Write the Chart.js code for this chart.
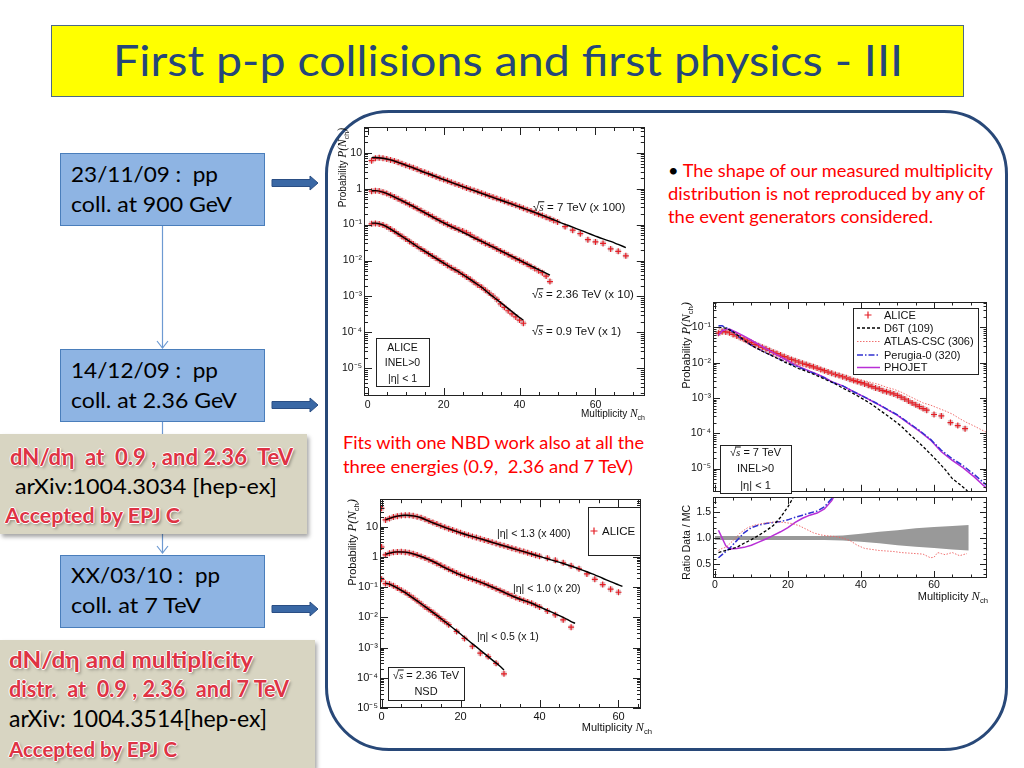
<!DOCTYPE html>
<html lang="en">
<head>
<meta charset="utf-8">
<title>First p-p collisions and first physics - III</title>
<script src="https://cdn.jsdelivr.net/npm/chart.js@4.4.1/dist/chart.umd.min.js"></script>
<style>
  html, body { margin: 0; padding: 0; background: #fff; }
  body { position: relative; width: 1024px; height: 768px; overflow: hidden; }
  .abs { position: absolute; }
  .t { position: absolute; white-space: pre; line-height: 1.2; transform-origin: 0 50%;
       font-family: Lato, "Open Sans", sans-serif; color: #000; }
  .wa { font-weight: 700; color: #de3344;
        text-shadow: -1px 0 #fff, 1px 0 #fff, 0 -1px #fff, 0 1px #fff, 2px 2px 3px rgba(0,0,0,0.35); }
  .red { color: #ff0000; }
  .blue-box { position: absolute; left: 60px; width: 205px; height: 73px; box-sizing: border-box;
              background: #8eb4e3; border: 1px solid #4a7ebb; }
  .grey-box { position: absolute; left: 0; background: #d8d5c2; box-shadow: 2px 3px 4px rgba(0,0,0,0.35); }
  canvas { position: absolute; }
</style>
</head>
<body>
<svg class="abs" style="left:0;top:0" width="1024" height="768">
  <g stroke="#6d9ad2" stroke-width="1.2" fill="none">
    <line x1="162.5" y1="226" x2="162.5" y2="348"/>
    <polyline points="157,341 162.5,348 168,341"/>
    <line x1="162.5" y1="422" x2="162.5" y2="553"/>
    <polyline points="157,546 162.5,553 168,546"/>
  </g>
  <g fill="#3a68a5" stroke="#2a4e84" stroke-width="1">
    <polygon points="272,179.5 310,179.5 310,176 318,183 310,190 310,186.5 272,186.5"/>
    <polygon points="272,401.5 310,401.5 310,398 318,405 310,412 310,408.5 272,408.5"/>
    <polygon points="272,605.5 310,605.5 310,602 318,609 310,616 310,612.5 272,612.5"/>
  </g>
</svg>
<div class="abs" style="left:325px;top:110px;width:683px;height:641px;box-sizing:border-box;border:3px solid #284878;border-radius:64px"></div>
<div class="abs" style="left:51px;top:25px;width:913px;height:72px;box-sizing:border-box;background:#ffff00;border:1px solid #4d6a86"></div>
<div class="blue-box" style="top:153px"></div>
<div class="blue-box" style="top:349px"></div>
<div class="blue-box" style="top:555px"></div>
<div class="grey-box" style="top:434px;width:307px;height:100px"></div>
<div class="grey-box" style="top:640px;width:315px;height:128px"></div>

<canvas id="c-energies" width="317" height="300" style="left:333px;top:120px"></canvas>
<canvas id="c-models" width="317" height="201" style="left:678px;top:296px"></canvas>
<canvas id="c-ratio" width="317" height="108" style="left:678px;top:497px"></canvas>
<canvas id="c-eta" width="317" height="250" style="left:338px;top:494px"></canvas>

<div class="t" data-cy="62" data-w="790" style="left:113px;font-size:42px;color:#25467a">First p-p collisions and first physics - III</div>

<div class="t" data-cy="175" data-w="147" style="left:71px;font-size:22px">23/11/09 :  pp</div>
<div class="t" data-cy="205" data-w="161" style="left:71px;font-size:22px">coll. at 900 GeV</div>
<div class="t" data-cy="371" data-w="147" style="left:71px;font-size:22px">14/12/09 :  pp</div>
<div class="t" data-cy="401" data-w="166" style="left:71px;font-size:22px">coll. at 2.36 GeV</div>
<div class="t" data-cy="576" data-w="149" style="left:71px;font-size:22px">XX/03/10 :  pp</div>
<div class="t" data-cy="606" data-w="130" style="left:71px;font-size:22px">coll. at 7 TeV</div>

<div class="t wa" data-cy="458" data-w="283" style="left:10px;font-size:22px">dN/dη  at  0.9 , and 2.36  TeV</div>
<div class="t" data-cy="487" data-w="262" style="left:15px;font-size:22px">arXiv:1004.3034 [hep-ex]</div>
<div class="t wa" data-cy="515" data-w="175" style="left:5px;font-size:21px">Accepted by EPJ C</div>

<div class="t wa" data-cy="661" data-w="244" style="left:9px;font-size:23px">dN/dη and multiplicity</div>
<div class="t wa" data-cy="690" data-w="280" style="left:9px;font-size:23px">distr.  at  0.9 , 2.36  and 7 TeV</div>
<div class="t" data-cy="720" data-w="258" style="left:9px;font-size:23px">arXiv: 1004.3514[hep-ex]</div>
<div class="t wa" data-cy="749" data-w="168" style="left:9px;font-size:21px">Accepted by EPJ C</div>

<div class="t red" data-cy="172" data-w="325" style="left:668px;font-size:18px"><span style="color:#000">•</span> The shape of our measured multiplicity</div>
<div class="t red" data-cy="195" data-w="317" style="left:668px;font-size:18px">distribution is not reproduced by any of</div>
<div class="t red" data-cy="218" data-w="265" style="left:668px;font-size:18px">the event generators considered.</div>

<div class="t red" data-cy="444" data-w="301" style="left:343px;font-size:18px">Fits with one NBD work also at all the</div>
<div class="t red" data-cy="468" data-w="290" style="left:343px;font-size:18px">three energies (0.9,  2.36 and 7 TeV)</div>

<script>
// ---- top-left plot: INEL>0, |eta|<1, three energies (scaled) ----
const tlN7 = [1, 2, 3, 4, 5, 6, 7, 8, 9, 10, 11, 12, 13, 14, 15, 16, 17, 18, 19, 20, 21, 22, 23, 24, 25, 26, 27, 28, 29, 30,
  31, 32, 33, 34, 35, 36, 37, 38, 39, 40, 41, 42, 43, 44, 45, 46, 47, 48, 49, 50, 52, 54, 56, 58, 60, 62, 64, 66, 68];
const tlP7 = [6.0, 7.0, 7.2, 7.0, 6.7, 6.3, 5.9, 5.4, 4.95, 4.5, 4.15, 3.8, 3.45, 3.1, 2.85, 2.6, 2.35, 2.15, 1.95, 1.8,
  1.65, 1.5, 1.37, 1.26, 1.15, 1.05, 0.96, 0.89, 0.82, 0.75, 0.69, 0.63, 0.58, 0.53, 0.49, 0.45, 0.41, 0.375, 0.345, 0.315,
  0.285, 0.26, 0.24, 0.215, 0.195, 0.178, 0.16, 0.145, 0.13, 0.118, 0.088, 0.07, 0.056, 0.038, 0.033, 0.03, 0.021, 0.018, 0.0135];
const tlFitN7 = [1, 2, 4, 6, 8, 10, 12, 14, 16, 18, 20, 22, 24, 26, 28, 30, 32, 34, 36, 38, 40, 42, 44, 46, 48, 50,
  52, 54, 56, 58, 60, 62, 64, 66, 68];
const tlFit7 = [7.3, 7.4, 7.0, 6.3, 5.4, 4.5, 3.8, 3.1, 2.6, 2.15, 1.8, 1.5, 1.25, 1.05, 0.88, 0.74, 0.62, 0.52, 0.44, 0.37,
  0.31, 0.26, 0.22, 0.18, 0.15, 0.123, 0.102, 0.085, 0.07, 0.058, 0.048, 0.04, 0.034, 0.028, 0.023];

const tlN236 = [1, 2, 3, 4, 5, 6, 7, 8, 9, 10, 11, 12, 13, 14, 15, 16, 17, 18, 19, 20, 21, 22, 23, 24, 25, 26, 27, 28, 29, 30,
  31, 32, 33, 34, 35, 36, 37, 38, 39, 40, 41, 42, 43, 44, 45, 46, 47, 48];
const tlP236 = [0.85, 0.88, 0.86, 0.8, 0.73, 0.66, 0.59, 0.52, 0.46, 0.41, 0.36, 0.32, 0.28, 0.245, 0.215, 0.19, 0.167, 0.146,
  0.128, 0.113, 0.1, 0.089, 0.08, 0.072, 0.066, 0.059, 0.052, 0.044, 0.039, 0.034, 0.03, 0.027, 0.024, 0.021, 0.0185, 0.0165,
  0.0145, 0.0128, 0.0113, 0.0101, 0.0089, 0.0079, 0.0068, 0.006, 0.0052, 0.0046, 0.0037, 0.0026];
const tlFitN236 = [1, 2, 4, 6, 8, 10, 12, 14, 16, 18, 20, 22, 24, 26, 28, 30, 32, 34, 36, 38, 40, 42, 44, 46, 48];
const tlFit236 = [0.87, 0.88, 0.8, 0.66, 0.52, 0.41, 0.32, 0.245, 0.19, 0.145, 0.112, 0.088, 0.07, 0.055, 0.043, 0.034,
  0.027, 0.021, 0.0165, 0.013, 0.0102, 0.008, 0.0063, 0.005, 0.0039];

const tlN09 = [1, 2, 3, 4, 5, 6, 7, 8, 9, 10, 11, 12, 13, 14, 15, 16, 17, 18, 19, 20, 21, 22, 23, 24, 25, 26, 27, 28, 29, 30,
  31, 32, 33, 34, 35, 36, 37, 38, 39, 40, 41];
const tlP09 = [0.105, 0.108, 0.104, 0.097, 0.087, 0.075, 0.065, 0.055, 0.047, 0.04, 0.034, 0.029, 0.025, 0.021, 0.018, 0.0155,
  0.0133, 0.0115, 0.0099, 0.0085, 0.0073, 0.0063, 0.0055, 0.0048, 0.0041, 0.0035, 0.003, 0.0025, 0.0021, 0.0018, 0.0015,
  0.00125, 0.00103, 0.00083, 0.00062, 0.0005, 0.0004, 0.00033, 0.00027, 0.00022, 0.00018];
const tlFitN09 = [1, 2, 4, 6, 8, 10, 12, 14, 16, 18, 20, 22, 24, 26, 28, 30, 32, 34, 36, 38, 40, 41];
const tlFit09 = [0.11, 0.11, 0.098, 0.075, 0.055, 0.04, 0.029, 0.021, 0.0155, 0.0115, 0.0085, 0.0063, 0.0048, 0.0035, 0.0025,
  0.0018, 0.0012, 0.00082, 0.00056, 0.00038, 0.00026, 0.00022];

// ---- right plot: 7 TeV data vs event generators ----
const rN = [1, 2, 3, 4, 5, 6, 7, 8, 9, 10, 11, 12, 13, 14, 15, 16, 17, 18, 19, 20, 21, 22, 23, 24, 25, 26, 27, 28, 29, 30,
  31, 32, 33, 34, 35, 36, 37, 38, 39, 40, 41, 42, 43, 44, 45, 46, 47, 48, 49, 50, 51, 52, 53, 54, 55, 56, 57, 58,
  60, 62, 64.5, 66.5, 68.5];
const rAlice = [0.068, 0.075, 0.074, 0.07, 0.063, 0.057, 0.051, 0.046, 0.041, 0.037, 0.033, 0.03, 0.027, 0.0245, 0.022,
  0.0198, 0.018, 0.0163, 0.0148, 0.0135, 0.0123, 0.0113, 0.0104, 0.0096, 0.0089, 0.0082, 0.0076, 0.007, 0.0064, 0.0059,
  0.0054, 0.005, 0.0046, 0.0043, 0.004, 0.0037, 0.0034, 0.0031, 0.0029, 0.0027, 0.0025, 0.0023, 0.0021, 0.0019, 0.0018,
  0.0016, 0.0015, 0.0014, 0.0013, 0.00118, 0.00105, 0.00093, 0.00082, 0.00072, 0.00064, 0.00057, 0.0005, 0.00045,
  0.00034, 0.00031, 0.0002, 0.000165, 0.000135];
const rD6TN = [1, 3, 5, 7, 9, 11, 13, 15, 17, 19, 21, 23, 25, 27, 29, 31, 33, 35, 37, 39, 41, 43, 45, 47, 49, 51, 53, 55,
  57, 59, 61, 63, 65, 67, 69, 71];
const rD6T = [0.1, 0.095, 0.075, 0.052, 0.036, 0.027, 0.021, 0.0168, 0.0133, 0.0105, 0.0084, 0.0068, 0.0057, 0.0047, 0.0038,
  0.0031, 0.0025, 0.0019, 0.0015, 0.00115, 0.00088, 0.00065, 0.00046, 0.00033, 0.00023, 0.00016, 0.0001, 0.000065, 0.000042,
  0.000026, 0.000016, 0.0000095, 0.0000052, 0.0000036, 0.0000024, 0.000001];
const rAtlasN = [1, 3, 5, 7, 9, 11, 13, 15, 17, 19, 21, 23, 25, 27, 29, 31, 33, 35, 37, 39, 41, 43, 45, 47, 49, 51, 53, 55,
  57, 59, 61, 63, 65, 67, 69, 71, 73, 74.5];
const rAtlas = [0.09, 0.09, 0.066, 0.046, 0.034, 0.026, 0.021, 0.017, 0.0137, 0.0114, 0.0096, 0.0084, 0.0076, 0.0069, 0.006,
  0.0052, 0.0045, 0.004, 0.0036, 0.0034, 0.0031, 0.0027, 0.0024, 0.002, 0.00176, 0.00146, 0.00115, 0.00091, 0.00072,
  0.00063, 0.00052, 0.00043, 0.00035, 0.00026, 0.0002, 0.00016, 0.000125, 0.000104];
const rPerugiaN = [1, 2, 4, 6, 8, 10, 12, 14, 16, 18, 20, 22, 24, 26, 28, 30, 32, 35, 38, 41, 44, 47, 50, 53, 56, 59, 62,
  65, 68, 71, 74.5];
const rPerugia = [0.11, 0.11, 0.0875, 0.06, 0.042, 0.031, 0.024, 0.019, 0.0152, 0.0123, 0.01, 0.0081, 0.0067, 0.0055, 0.0046,
  0.0037, 0.0028, 0.0022, 0.0015, 0.00105, 0.00073, 0.00049, 0.00033, 0.0002, 0.00012, 0.000068, 0.000033, 0.000019,
  0.000012, 0.0000068, 0.0000033];
const rPhojetN = [1, 2, 3, 4, 6, 8, 10, 12, 14, 16, 18, 20, 22, 24, 26, 28, 30, 32, 35, 38, 41, 44, 47, 50, 53, 56, 59, 62,
  65, 68, 71, 74.5];
const rPhojet = [0.059, 0.08, 0.087, 0.089, 0.071, 0.056, 0.043, 0.0326, 0.025, 0.0189, 0.0146, 0.0113, 0.0087, 0.007, 0.0057,
  0.0047, 0.0038, 0.0029, 0.0022, 0.0015, 0.00105, 0.00072, 0.00048, 0.00032, 0.00019, 0.000115, 0.000065, 0.00003,
  0.000017, 0.0000105, 0.0000058, 0.0000027];

// ratio data / MC
const bandN = [0, 10, 20, 30, 35, 40, 45, 50, 55, 60, 65, 69.5];
const bandHi = [1.04, 1.04, 1.04, 1.04, 1.05, 1.08, 1.12, 1.15, 1.19, 1.21, 1.23, 1.25];
const bandLo = [0.96, 0.96, 0.96, 0.96, 0.95, 0.93, 0.9, 0.86, 0.83, 0.81, 0.78, 0.76];
const ratioD6TN = [1, 2, 4, 6, 8, 10, 12, 14, 16, 18, 20, 22];
const ratioD6T = [0.72, 0.74, 0.78, 0.82, 0.9, 0.97, 1.05, 1.14, 1.24, 1.4, 1.6, 1.85];
const ratioAtlasN = [1, 2, 3, 5, 7, 9, 11, 13, 15, 17, 19, 21, 23, 25, 27, 29, 31, 33, 35, 37, 39, 41, 43, 45, 47, 49, 51,
  53, 55, 57, 59, 60, 61, 62, 63, 65, 67, 69];
const ratioAtlas = [0.76, 0.8, 0.82, 0.95, 1.1, 1.2, 1.25, 1.28, 1.3, 1.31, 1.3, 1.28, 1.24, 1.17, 1.1, 1.06, 1.04, 1.03, 1.0,
  0.95, 0.86, 0.8, 0.78, 0.76, 0.75, 0.74, 0.72, 0.71, 0.7, 0.69, 0.62, 0.63, 0.72, 0.7, 0.68, 0.72, 0.66, 0.7];
const ratioPerugiaN = [1, 2, 4, 6, 8, 10, 12, 14, 16, 18, 20, 22, 24, 26, 28, 30, 32, 33];
const ratioPerugia = [0.62, 0.68, 0.8, 0.95, 1.1, 1.2, 1.25, 1.28, 1.3, 1.32, 1.35, 1.4, 1.44, 1.48, 1.52, 1.6, 1.76, 1.85];
const ratioPhojetN = [1, 3, 4, 6, 8, 10, 12, 14, 16, 18, 20, 22, 24, 26, 28, 30, 32, 33];
const ratioPhojet = [1.15, 0.85, 0.79, 0.8, 0.82, 0.86, 0.92, 0.98, 1.05, 1.12, 1.2, 1.3, 1.38, 1.44, 1.48, 1.56, 1.72, 1.85];

// ---- bottom plot: NSD 2.36 TeV, three eta ranges (scaled) ----
const blN13 = [0, 1, 2, 3, 4, 5, 6, 7, 8, 9, 10, 11, 12, 13, 14, 15, 16, 17, 18, 19, 20, 21, 22, 23, 24, 25, 26, 27, 28, 29,
  30, 31, 32, 33, 34, 35, 36, 37, 38, 39, 40, 42, 44, 46, 48, 50, 52, 54, 56, 58, 60];
const blP13 = [40, 16.5, 18.5, 20.5, 22, 23, 23.5, 23.5, 22.5, 21, 19.5, 17.3, 15.3, 13.5, 12, 10.6, 9.5, 8.5, 7.6, 6.9,
  6.2, 5.6, 5.1, 4.65, 4.3, 3.95, 3.6, 3.3, 3.0, 2.75, 2.5, 2.3, 2.1, 1.92, 1.76, 1.6, 1.48, 1.35, 1.24, 1.13, 1.04,
  0.9, 0.76, 0.63, 0.5, 0.4, 0.27, 0.18, 0.12, 0.085, 0.067];
const blFitN13 = [1, 2, 4, 6, 8, 10, 12, 14, 16, 18, 20, 22, 24, 26, 28, 30, 32, 34, 36, 38, 40, 42, 44, 46, 48, 50, 52,
  54, 56, 58, 60, 61];
const blFit13 = [16.5, 18.5, 22, 23.5, 22.5, 19.5, 15, 11.8, 9.4, 7.6, 6.2, 5.1, 4.3, 3.6, 3.0, 2.5, 2.1, 1.75, 1.47, 1.23,
  1.03, 0.86, 0.72, 0.6, 0.49, 0.4, 0.32, 0.25, 0.195, 0.15, 0.118, 0.105];

const blN10 = [0, 1, 2, 3, 4, 5, 6, 7, 8, 9, 10, 11, 12, 13, 14, 15, 16, 17, 18, 19, 20, 21, 22, 23, 24, 25, 26, 27, 28, 29,
  30, 31, 32, 33, 34, 35, 36, 37, 38, 39, 40, 42, 44, 46, 48];
const blP10 = [2.1, 1.15, 1.3, 1.4, 1.45, 1.46, 1.42, 1.35, 1.25, 1.14, 1.02, 0.91, 0.8, 0.7, 0.6, 0.52, 0.45, 0.385, 0.335,
  0.29, 0.255, 0.225, 0.2, 0.18, 0.162, 0.145, 0.13, 0.115, 0.1, 0.088, 0.077, 0.067, 0.059, 0.051, 0.045, 0.04, 0.036,
  0.032, 0.029, 0.025, 0.022, 0.016, 0.012, 0.0082, 0.0047];
const blFitN10 = [1, 2, 4, 6, 8, 10, 12, 14, 16, 18, 20, 22, 24, 26, 28, 30, 32, 34, 36, 38, 40, 42, 44, 46, 48, 49];
const blFit10 = [1.2, 1.32, 1.45, 1.42, 1.25, 1.02, 0.8, 0.6, 0.44, 0.33, 0.25, 0.2, 0.163, 0.13, 0.1, 0.077, 0.058, 0.045,
  0.036, 0.029, 0.022, 0.017, 0.013, 0.01, 0.0072, 0.0063];

const blN05 = [0, 1, 2, 3, 4, 5, 6, 7, 8, 9, 10, 11, 12, 13, 14, 15, 16, 17, 19, 21, 23, 25, 27, 29, 31];
const blP05 = [0.18, 0.13, 0.125, 0.11, 0.093, 0.078, 0.066, 0.054, 0.044, 0.035, 0.028, 0.022, 0.018, 0.0145, 0.0115,
  0.009, 0.0072, 0.0057, 0.0034, 0.002, 0.0011, 0.00065, 0.0005, 0.0003, 0.000135];
const blFitN05 = [1, 2, 4, 6, 8, 10, 12, 14, 16, 18, 20, 22, 24, 26, 28, 30, 31];
const blFit05 = [0.135, 0.125, 0.092, 0.065, 0.043, 0.028, 0.018, 0.0115, 0.0072, 0.0045, 0.0028, 0.0017, 0.00105,
  0.00064, 0.00039, 0.00024, 0.00018];

// ---- tick labels ----
const multTicks = [0, 20, 40, 60];
const multLabels = ['0', '20', '40', '60'];
const decadeTicks = [1e-5, 1e-4, 1e-3, 1e-2, 1e-1, 1, 10];
const decadeLabels = ['10⁻⁵', '10⁻⁴', '10⁻³', '10⁻²', '10⁻¹', '1', '10'];
const modelTicks = [1e-5, 1e-4, 1e-3, 1e-2, 1e-1];
const modelLabels = ['10⁻⁵', '10⁻⁴', '10⁻³', '10⁻²', '10⁻¹'];
const ratioTicks = [0.5, 1.0, 1.5];
const ratioLabels = ['0.5', '1.0', '1.5'];

const SANS = '"Liberation Sans", Arial, Helvetica, sans-serif';
const SERIF = '"Liberation Serif", "Times New Roman", serif';
const RED = '#e41f26';
const SYS = 'rgba(200, 150, 155, 0.55)';

function pts(ns, vs) {
    return ns.map((n, i) => ({ x: n, y: vs[i] }));
}

function fitLine(ns, vs) {
    return { data: pts(ns, vs), borderColor: '#000', borderWidth: 1.4, pointRadius: 0,
             tension: 0.3, cubicInterpolationMode: 'monotone', fill: false, order: 0 };
}

function crosses(ns, vs) {
    return { data: pts(ns, vs), showLine: false, pointStyle: 'cross', pointRadius: 3,
             pointBorderColor: RED, pointBorderWidth: 1.2, order: 1 };
}

function sysBoxes(ns, vs) {
    return { data: pts(ns, vs), showLine: false, pointStyle: 'rect', pointRadius: 3.6,
             pointBackgroundColor: SYS, pointBorderWidth: 0, order: 2 };
}

function mcLine(ns, vs, color, width, dash) {
    return { data: pts(ns, vs), borderColor: color, borderWidth: width, borderDash: dash || [],
             pointRadius: 0, tension: 0, fill: false, order: 0 };
}

function axisX(min, max, labelSize, height, padding, showLabels) {
    return {
        type: 'linear', min: min, max: max,
        grid: { display: false, drawTicks: false }, border: { display: false },
        afterBuildTicks: s => { s.ticks = multTicks.map(v => ({ value: v })); },
        afterFit: s => { s.height = height; s.paddingLeft = 0; s.paddingRight = 0; },
        ticks: { display: showLabels, autoSkip: false, maxRotation: 0, padding: padding, color: '#111',
                 font: { family: SANS, size: labelSize }, callback: (v, i) => multLabels[i] }
    };
}

function axisY(type, min, max, ticks, labels, labelSize, width) {
    return {
        type: type, min: min, max: max,
        grid: { display: false, drawTicks: false }, border: { display: false },
        afterBuildTicks: s => { s.ticks = ticks.map(v => ({ value: v })); },
        afterFit: s => { s.width = width; s.paddingTop = 0; s.paddingBottom = 0; },
        ticks: { autoSkip: false, padding: 2, color: '#111',
                 font: { family: SANS, size: labelSize }, callback: (v, i) => labels[i] }
    };
}

// frame and inward tick marks on all four sides, ROOT style
const rootFrame = {
    id: 'rootFrame',
    afterDatasetsDraw(chart, args, o) {
        const { ctx, chartArea: a } = chart;
        const x = chart.scales.x, y = chart.scales.y;
        ctx.save();
        ctx.strokeStyle = '#222';
        ctx.lineWidth = 1;
        ctx.beginPath();
        for (let i = Math.ceil(x.min / o.xStep); i * o.xStep <= x.max; i++) {
            const px = Math.round(x.getPixelForValue(i * o.xStep)) + 0.5;
            const len = i % o.xPer === 0 ? o.major : o.major / 2;
            ctx.moveTo(px, a.bottom); ctx.lineTo(px, a.bottom - len);
            ctx.moveTo(px, a.top); ctx.lineTo(px, a.top + len);
        }
        const marks = [];
        if (y.type === 'logarithmic') {
            for (let e = Math.floor(Math.log10(y.min)); e <= Math.ceil(Math.log10(y.max)); e++) {
                for (let k = 1; k < 10; k++) marks.push([k * Math.pow(10, e), k === 1]);
            }
        } else {
            for (let i = Math.ceil(y.min / o.yStep); i * o.yStep <= y.max; i++) marks.push([i * o.yStep, i % o.yPer === 0]);
        }
        marks.forEach(([v, major]) => {
            if (v < y.min || v > y.max) return;
            const py = Math.round(y.getPixelForValue(v)) + 0.5;
            const len = major ? o.major : o.major / 2;
            ctx.moveTo(a.left, py); ctx.lineTo(a.left + len, py);
            ctx.moveTo(a.right, py); ctx.lineTo(a.right - len, py);
        });
        ctx.stroke();
        ctx.strokeRect(Math.round(a.left) + 0.5, Math.round(a.top) + 0.5, Math.round(a.width) - 1, Math.round(a.height) - 1);
        ctx.restore();
    }
};

// rich text: parts = [text, size, flags]; flags: i = italic serif, b = subscript, o = overline
function drawParts(ctx, parts, x, y, align) {
    const fonts = parts.map(p => {
        const it = p[2] && p[2].indexOf('i') >= 0;
        return (it ? 'italic ' : '') + p[1] + 'px ' + (it ? SERIF : SANS);
    });
    let total = 0;
    const widths = parts.map((p, i) => {
        ctx.font = fonts[i];
        const w = ctx.measureText(p[0]).width;
        total += w;
        return w;
    });
    let cx = align === 'center' ? x - total / 2 : align === 'right' ? x - total : x;
    const base = y + parts[0][1] * 0.36;
    ctx.textAlign = 'left';
    ctx.textBaseline = 'alphabetic';
    parts.forEach((p, i) => {
        ctx.font = fonts[i];
        const sub = p[2] && p[2].indexOf('b') >= 0;
        ctx.fillText(p[0], cx, base + (sub ? 3.5 : 0));
        if (p[2] && p[2].indexOf('o') >= 0) ctx.fillRect(cx - 1, base - p[1] * 0.86, widths[i] + 1.5, 1);
        cx += widths[i];
    });
}

function sqrtS(size, rest) {
    return [['√', size], ['s', size, 'io'], [rest, size]];
}
function multTitle(size) {
    return [['Multiplicity ', size], ['N', size + 1.5, 'i'], ['ch', size * 0.7, 'b']];
}
function probTitle(size) {
    return [['Probability ', size], ['P(N', size + 1.5, 'i'], ['ch', size * 0.7, 'b'], [')', size + 1.5, 'i']];
}

// labels, boxes and legends given in page coordinates
function textLayer(origin, items) {
    return {
        id: 'textLayer',
        afterDraw(chart) {
            const ctx = chart.ctx;
            ctx.save();
            ctx.translate(-origin[0], -origin[1]);
            ctx.lineWidth = 1;
            ctx.strokeStyle = '#222';
            items.forEach(it => {
                ctx.fillStyle = '#111';
                if (it.box) {
                    const [bx, by, bw, bh] = it.box;
                    ctx.fillStyle = '#fff';
                    ctx.fillRect(bx, by, bw, bh);
                    ctx.strokeRect(bx + 0.5, by + 0.5, bw, bh);
                } else if (it.line) {
                    ctx.save();
                    ctx.strokeStyle = it.color;
                    ctx.lineWidth = it.width;
                    ctx.setLineDash(it.dash || []);
                    ctx.beginPath();
                    ctx.moveTo(it.line[0], it.line[2]);
                    ctx.lineTo(it.line[1], it.line[2]);
                    ctx.stroke();
                    ctx.restore();
                } else if (it.cross) {
                    const [cx, cy] = it.cross;
                    ctx.save();
                    ctx.strokeStyle = RED;
                    ctx.lineWidth = 1.2;
                    ctx.beginPath();
                    ctx.moveTo(cx - 3.5, cy); ctx.lineTo(cx + 3.5, cy);
                    ctx.moveTo(cx, cy - 3.5); ctx.lineTo(cx, cy + 3.5);
                    ctx.stroke();
                    ctx.restore();
                } else if (it.rot) {
                    ctx.save();
                    ctx.translate(it.x, it.y);
                    ctx.rotate(-Math.PI / 2);
                    drawParts(ctx, it.parts, 0, 0, 'right');
                    ctx.restore();
                } else {
                    drawParts(ctx, it.parts, it.x, it.y, it.align || 'left');
                }
            });
            ctx.restore();
        }
    };
}

const common = { responsive: false, animation: false, events: [] };
const noLegend = { legend: { display: false }, tooltip: { enabled: false } };

// Top-left: three energies
new Chart(document.getElementById('c-energies'), {
    type: 'line',
    data: {
        datasets: [
            fitLine(tlFitN7, tlFit7), fitLine(tlFitN236, tlFit236), fitLine(tlFitN09, tlFit09),
            crosses(tlN7, tlP7), crosses(tlN236, tlP236), crosses(tlN09, tlP09),
            sysBoxes(tlN7, tlP7), sysBoxes(tlN236, tlP236), sysBoxes(tlN09, tlP09)
        ]
    },
    options: Object.assign({}, common, {
        layout: { padding: { left: 0, top: 7, right: 5, bottom: 0 } },
        scales: {
            x: axisX(-1, 73, 10.5, 24, 3, true),
            y: axisY('logarithmic', 1.7e-6, 52, decadeTicks, decadeLabels, 10.5, 31)
        },
        plugins: Object.assign({}, noLegend, { rootFrame: { xStep: 5, xPer: 4, major: 8 } })
    }),
    plugins: [rootFrame, textLayer([333, 120], [
        { box: [376, 338, 53, 48] },
        { x: 402.5, y: 347, align: 'center', parts: [['ALICE', 10.5]] },
        { x: 402.5, y: 362, align: 'center', parts: [['INEL>0', 10.5]] },
        { x: 402.5, y: 378, align: 'center', parts: [['|η| < 1', 10.5]] },
        { x: 533, y: 207, parts: sqrtS(11.5, ' = 7 TeV (x 100)') },
        { x: 532, y: 294, parts: sqrtS(11.5, ' = 2.36 TeV (x 10)') },
        { x: 532, y: 331, parts: sqrtS(11.5, ' = 0.9 TeV (x 1)') },
        { x: 645, y: 413, align: 'right', parts: multTitle(10) },
        { x: 342, y: 128, rot: true, parts: probTitle(10) }
    ])]
});

// Right, upper pad: data vs generators
new Chart(document.getElementById('c-models'), {
    type: 'line',
    data: {
        datasets: [
            mcLine(rD6TN, rD6T, '#000', 1.3, [3, 2]),
            mcLine(rAtlasN, rAtlas, '#ee6060', 0.9, [1.5, 1.5]),
            mcLine(rPerugiaN, rPerugia, '#3030d0', 1.5, [6, 2, 1.5, 2]),
            mcLine(rPhojetN, rPhojet, '#b82fd6', 1.5),
            crosses(rN, rAlice),
            sysBoxes(rN, rAlice)
        ]
    },
    options: Object.assign({}, common, {
        layout: { padding: { left: 0, top: 6, right: 8, bottom: 0 } },
        scales: {
            x: axisX(-0.5, 74.5, 10.5, 0, 0, false),
            y: axisY('logarithmic', 2.2e-6, 0.52, modelTicks, modelLabels, 10.5, 35)
        },
        plugins: Object.assign({}, noLegend, { rootFrame: { xStep: 5, xPer: 4, major: 7 } })
    }),
    plugins: [rootFrame, textLayer([678, 296], [
        { box: [853, 308, 125, 66] },
        { cross: [868, 315] }, { x: 884, y: 315, parts: [['ALICE', 11]] },
        { line: [857, 880, 328], color: '#000', width: 1.3, dash: [3, 2] }, { x: 884, y: 328, parts: [['D6T (109)', 11]] },
        { line: [857, 880, 341.5], color: '#ee6060', width: 0.9, dash: [1.5, 1.5] }, { x: 884, y: 341.5, parts: [['ATLAS-CSC (306)', 11]] },
        { line: [857, 880, 355], color: '#3030d0', width: 1.5, dash: [6, 2, 1.5, 2] }, { x: 884, y: 355, parts: [['Perugia-0 (320)', 11]] },
        { line: [857, 880, 367.5], color: '#b82fd6', width: 1.5 }, { x: 884, y: 367.5, parts: [['PHOJET', 11]] },
        { box: [720, 445, 71, 48] },
        { x: 755.5, y: 452, align: 'center', parts: sqrtS(11, ' = 7 TeV') },
        { x: 755.5, y: 468, align: 'center', parts: [['INEL>0', 11]] },
        { x: 755.5, y: 485, align: 'center', parts: [['|η| < 1', 11]] },
        { x: 686, y: 302, rot: true, parts: probTitle(11) }
    ])]
});

// Right, lower pad: ratio data / MC
new Chart(document.getElementById('c-ratio'), {
    type: 'line',
    data: {
        datasets: [
            { data: pts(bandN, bandLo), borderWidth: 0, pointRadius: 0, fill: false, order: 5 },
            { data: pts(bandN, bandHi), borderWidth: 0, pointRadius: 0, fill: '-1', backgroundColor: '#999', order: 5 },
            mcLine(ratioD6TN, ratioD6T, '#000', 1.3, [3, 2]),
            mcLine(ratioAtlasN, ratioAtlas, '#ee6060', 0.9, [1.5, 1.5]),
            mcLine(ratioPerugiaN, ratioPerugia, '#3030d0', 1.5, [6, 2, 1.5, 2]),
            mcLine(ratioPhojetN, ratioPhojet, '#b82fd6', 1.5)
        ]
    },
    options: Object.assign({}, common, {
        layout: { padding: { left: 0, top: 0, right: 8, bottom: 0 } },
        scales: {
            x: axisX(-0.5, 74.5, 10.5, 27, 1, true),
            y: axisY('linear', 0.23, 1.79, ratioTicks, ratioLabels, 10.5, 35)
        },
        plugins: Object.assign({}, noLegend, { rootFrame: { xStep: 5, xPer: 4, major: 7, yStep: 0.1, yPer: 5 } })
    }),
    plugins: [rootFrame, textLayer([678, 497], [
        { x: 686, y: 505, rot: true, parts: [['Ratio Data / MC', 10.5]] },
        { x: 988, y: 596, align: 'right', parts: multTitle(11) }
    ])]
});

// Bottom: three eta ranges at 2.36 TeV
new Chart(document.getElementById('c-eta'), {
    type: 'line',
    data: {
        datasets: [
            fitLine(blFitN13, blFit13), fitLine(blFitN10, blFit10), fitLine(blFitN05, blFit05),
            crosses(blN13, blP13), crosses(blN10, blP10), crosses(blN05, blP05),
            sysBoxes(blN13, blP13), sysBoxes(blN10, blP10), sysBoxes(blN05, blP05)
        ]
    },
    options: Object.assign({}, common, {
        layout: { padding: { left: 0, top: 5, right: 14, bottom: 0 } },
        scales: {
            x: axisX(-0.4, 65.7, 11, 36, 2, true),
            y: axisY('logarithmic', 1e-5, 80, decadeTicks, decadeLabels, 11, 42)
        },
        plugins: Object.assign({}, noLegend, { rootFrame: { xStep: 5, xPer: 4, major: 8 } })
    }),
    plugins: [rootFrame, textLayer([338, 494], [
        { box: [588, 507, 52, 48] },
        { cross: [594, 531] }, { x: 602, y: 531, parts: [['ALICE', 11.5]] },
        { box: [388, 667, 76, 33] },
        { x: 426, y: 675, align: 'center', parts: sqrtS(11, ' = 2.36 TeV') },
        { x: 426, y: 691, align: 'center', parts: [['NSD', 11]] },
        { x: 497, y: 533, parts: [['|η| < 1.3 (x 400)', 10.5]] },
        { x: 513, y: 588, parts: [['|η| < 1.0 (x 20)', 10.5]] },
        { x: 477, y: 636, parts: [['|η| < 0.5 (x 1)', 10.5]] },
        { x: 652, y: 727, align: 'right', parts: multTitle(11) },
        { x: 352, y: 499, rot: true, parts: probTitle(11) }
    ])]
});

// place slide text by its visual centre and stretch it to the measured width
function fitSlideText() {
    document.querySelectorAll('.t').forEach(el => {
        el.style.transform = 'none';
        const fs = parseFloat(getComputedStyle(el).fontSize);
        el.style.top = (parseFloat(el.dataset.cy) - fs * 0.64) + 'px';
        const w = el.getBoundingClientRect().width;
        el.style.transform = 'scaleX(' + (parseFloat(el.dataset.w) / w).toFixed(4) + ')';
    });
}
fitSlideText();
if (document.fonts) document.fonts.ready.then(fitSlideText);
</script>
</body>
</html>
